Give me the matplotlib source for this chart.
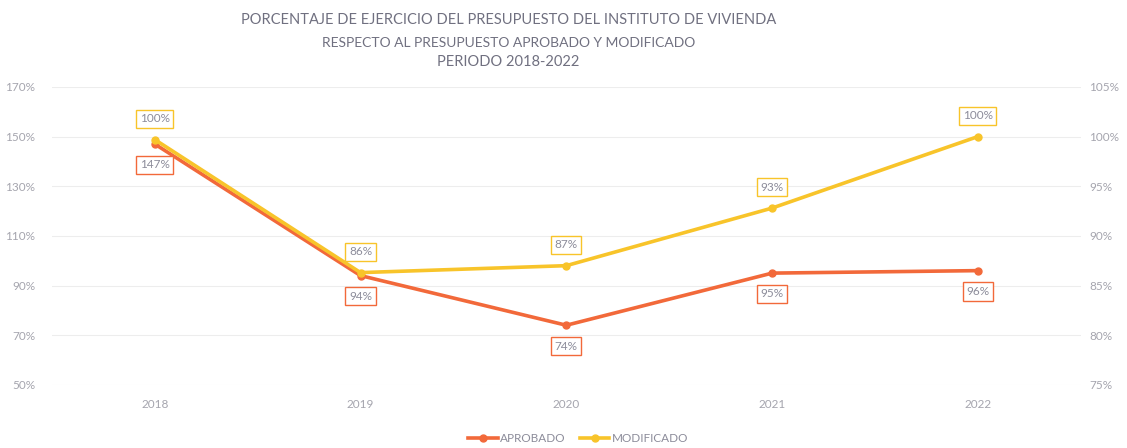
import matplotlib

matplotlib.use("Agg")

import matplotlib.pyplot as plt
from matplotlib.ticker import FuncFormatter

# data
years = ["2018", "2019", "2020", "2021", "2022"]
aprobado = [147, 94, 74, 95, 96]          # left axis
modificado = [99.7, 86.3, 87.0, 92.8, 100.0]  # right axis
aprobado_labels = ["147%", "94%", "74%", "95%", "96%"]
modificado_labels = ["100%", "86%", "87%", "93%", "100%"]
left_ticks = [50, 70, 90, 110, 130, 150, 170]
right_ticks = [75, 80, 85, 90, 95, 100, 105]

title_lines = [
    "PORCENTAJE DE EJERCICIO DEL PRESUPUESTO DEL INSTITUTO DE VIVIENDA",
    "RESPECTO AL PRESUPUESTO APROBADO Y MODIFICADO",
    "PERIODO 2018-2022",
]

ORANGE = "#F2693A"
YELLOW = "#F8C42A"
TEXT_GRAY = "#8C8C9A"
TICK_GRAY = "#A5A5AE"
GRID_GRAY = "#EDEDED"

plt.rcParams["font.family"] = ["Lato", "DejaVu Sans"]

fig = plt.figure(figsize=(11.27, 4.48), dpi=100)
ax = fig.add_axes([0.046, 0.141, 0.913, 0.665])
ax2 = ax.twinx()

x = list(range(len(years)))

ax.set_xlim(-0.5, len(years) - 0.5)
ax.set_ylim(50, 170)
ax2.set_ylim(75, 105)
ax.set_yticks(left_ticks)
ax2.set_yticks(right_ticks)
ax.set_xticks(x)
ax.set_xticklabels(years)

pct = FuncFormatter(lambda v, _: f"{v:.0f}%")
ax.yaxis.set_major_formatter(pct)
ax2.yaxis.set_major_formatter(pct)

for a in (ax, ax2):
    for s in a.spines.values():
        s.set_visible(False)
    a.tick_params(length=0, colors=TICK_GRAY, labelsize=8.5)
ax.tick_params(axis="x", pad=10)
ax.tick_params(axis="y", pad=12)
ax2.tick_params(axis="y", pad=6)
ax.grid(axis="y", color=GRID_GRAY, linewidth=0.8)
ax.set_axisbelow(True)

line_a, = ax.plot(x, aprobado, color=ORANGE, lw=2.6, marker="o", ms=5,
                  label="APROBADO", zorder=3)
line_m, = ax2.plot(x, modificado, color=YELLOW, lw=2.6, marker="o", ms=5,
                   label="MODIFICADO", zorder=3)

for xi, yi, lab in zip(x, aprobado, aprobado_labels):
    ax.annotate(lab, (xi, yi), xytext=(0, -15), textcoords="offset points",
                ha="center", va="center", fontsize=8.5, color=TEXT_GRAY,
                bbox=dict(boxstyle="square,pad=0.3", fc="white", ec=ORANGE, lw=1))

for xi, yi, lab in zip(x, modificado, modificado_labels):
    ax2.annotate(lab, (xi, yi), xytext=(0, 15), textcoords="offset points",
                 ha="center", va="center", fontsize=8.5, color=TEXT_GRAY,
                 bbox=dict(boxstyle="square,pad=0.3", fc="white", ec=YELLOW, lw=1))

title_y = [0.955, 0.905, 0.862]
title_size = [10.5, 10, 10.5]
for txt, ty, fs in zip(title_lines, title_y, title_size):
    fig.text(0.451, ty, txt, ha="center", va="center", fontsize=fs, color="#707080")

fig.legend(handles=[line_a, line_m], loc="center", bbox_to_anchor=(0.513, 0.022),
           ncol=2, frameon=False, fontsize=8.5, labelcolor=TEXT_GRAY,
           handlelength=2.5, columnspacing=1.2, handletextpad=0.2)

fig.savefig("out.png", dpi=100, facecolor="white")
